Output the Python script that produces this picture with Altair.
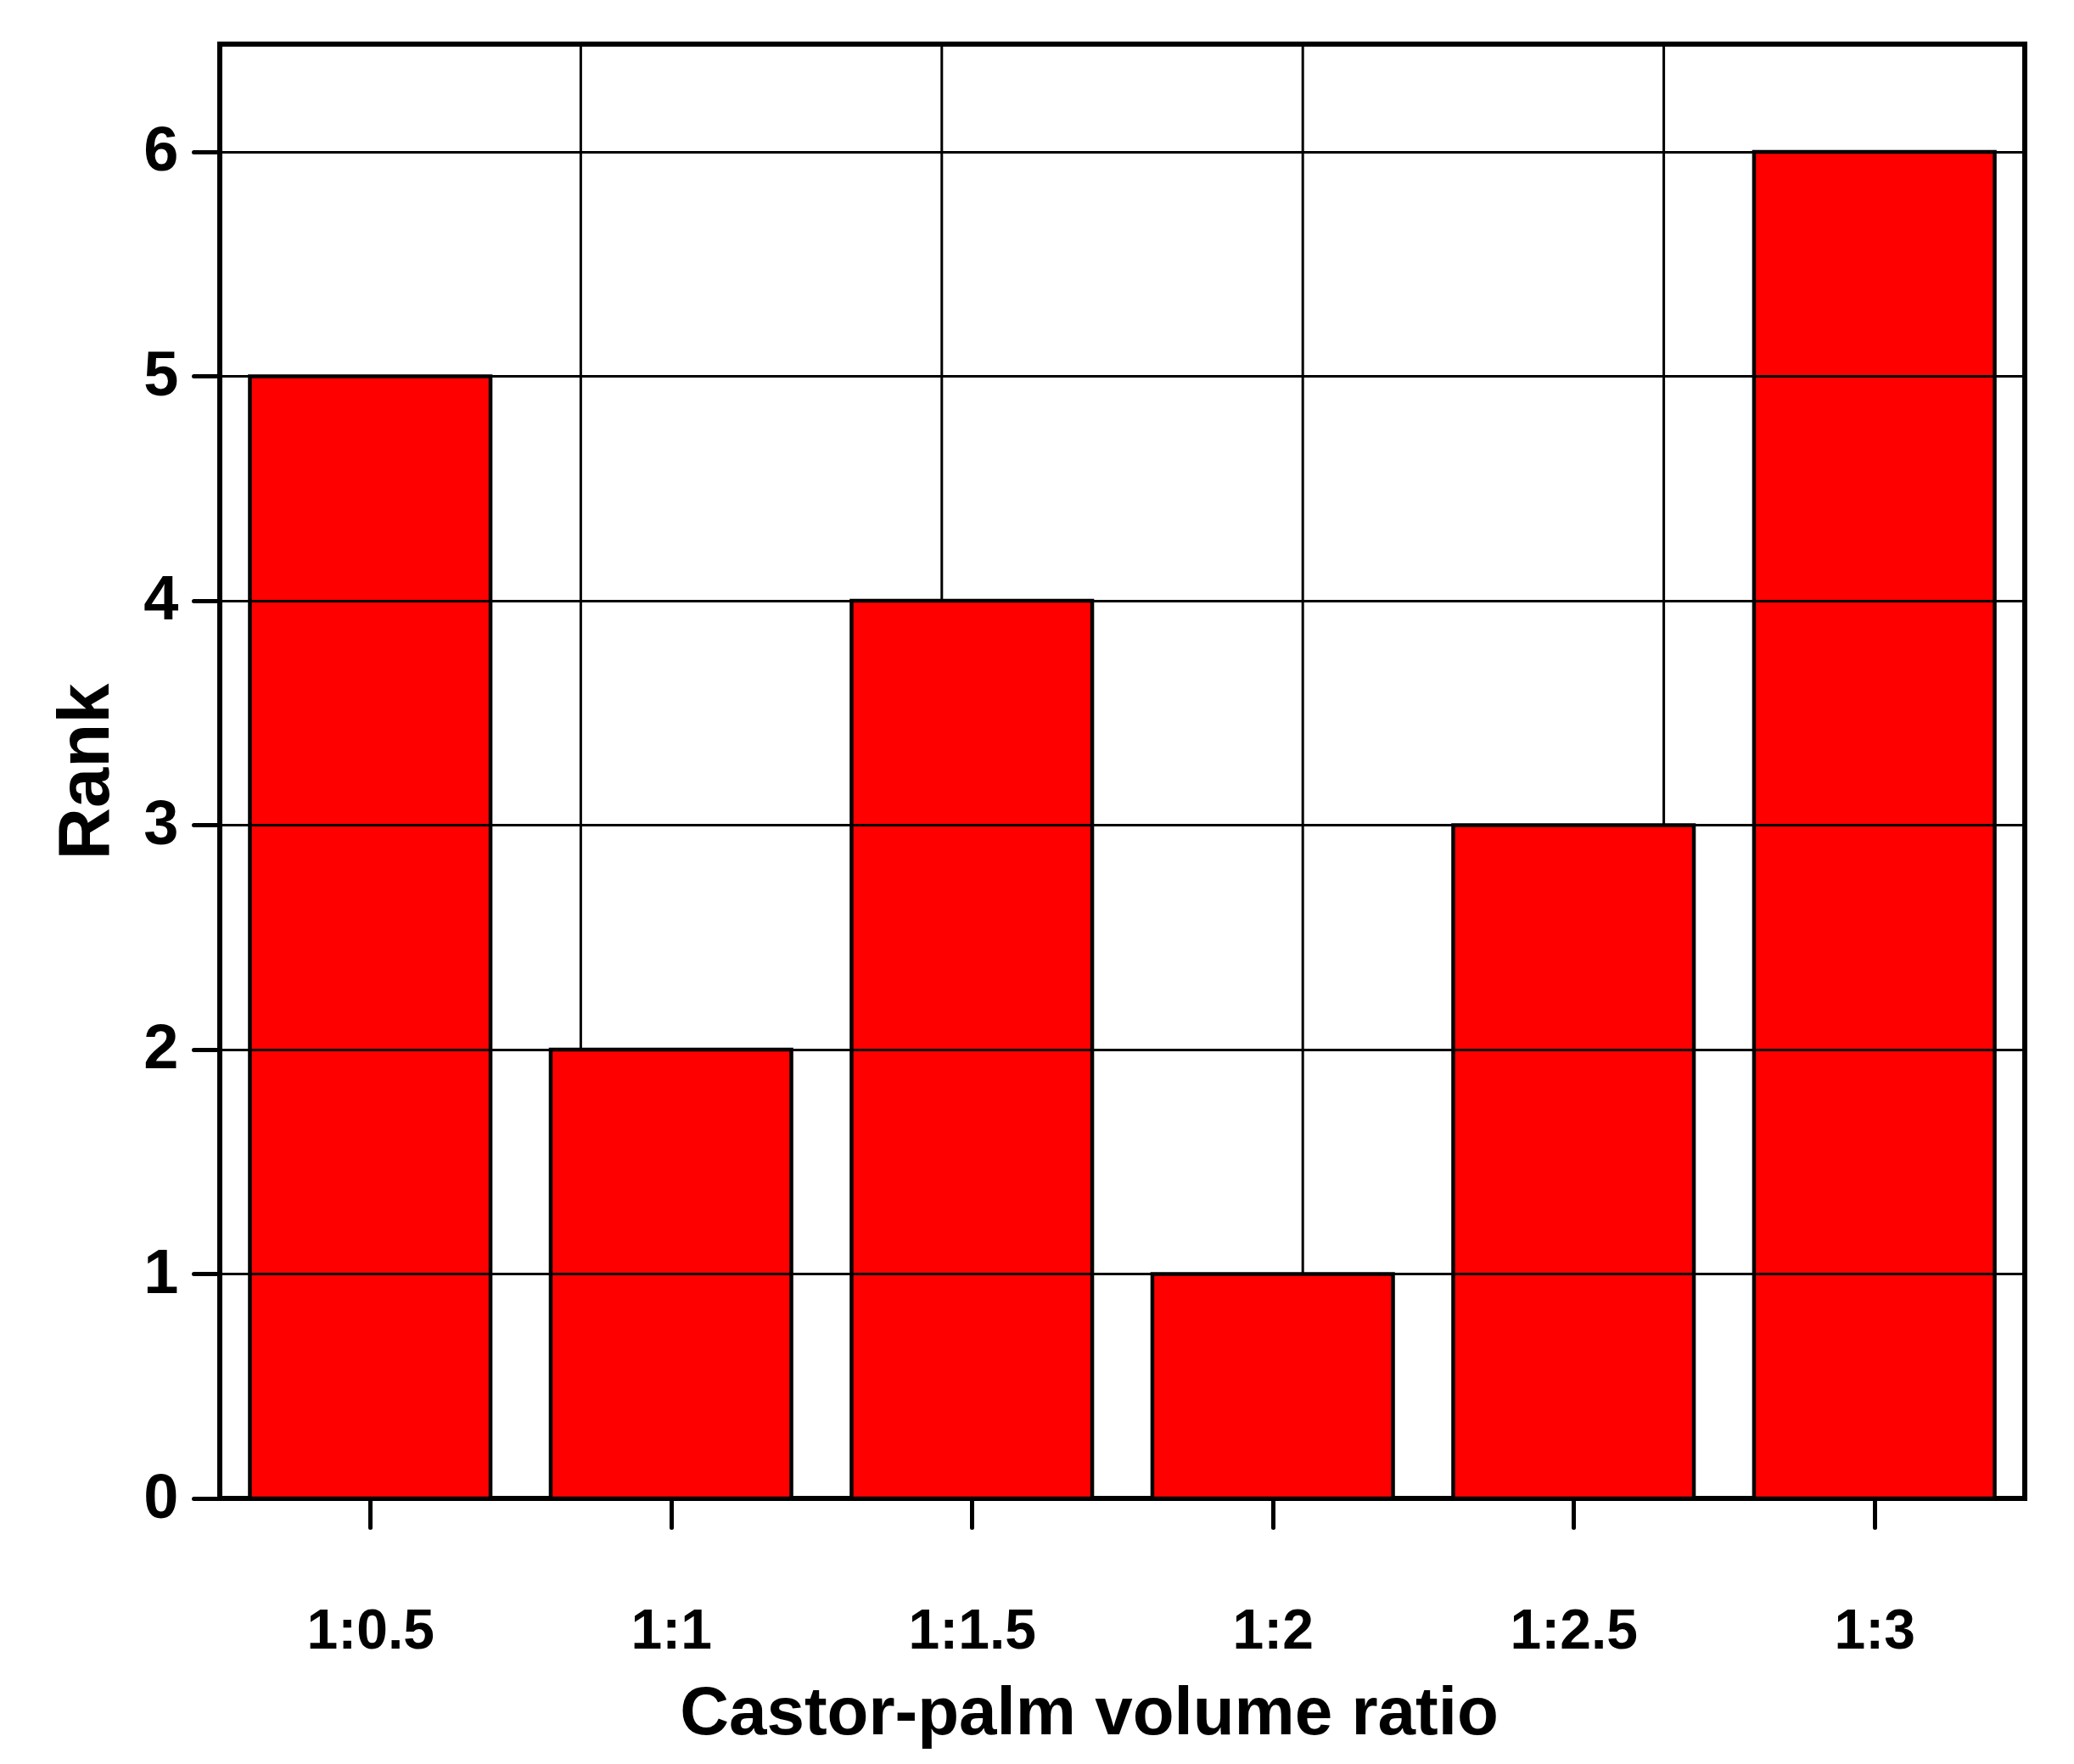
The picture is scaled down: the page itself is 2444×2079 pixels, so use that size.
import altair as alt
import pandas as pd

# ---- data ----
ratios = ["1:0.5", "1:1", "1:1.5", "1:2", "1:2.5", "1:3"]
ranks = [5, 2, 4, 1, 3, 6]
vgrid = [0.85, 1.45, 2.05, 2.65]
y_ticks = [0, 1, 2, 3, 4, 5, 6]

pos = [float(r.split(":")[1]) for r in ratios]
df = pd.DataFrame({"ratio": ratios, "pos": pos, "rank": ranks})
gdf = pd.DataFrame({"g": vgrid})

FONT = "Liberation Sans Narrow, Arial Narrow, Liberation Sans, Arial, sans-serif"
W, H = 2127, 1714
XDOM = [0.25, 3.25]
YDOM = [0, 6.48]

label_expr = "{" + ",".join(f"'{p:g}':'{r}'" for p, r in zip(pos, ratios)) + "}[''+datum.value]"

xscale = alt.Scale(domain=XDOM, nice=False, zero=False)
yscale = alt.Scale(domain=YDOM, nice=False, zero=False)

x_axis = alt.Axis(values=pos, labelExpr=label_expr, title="Castor-palm volume ratio",
                  grid=False, domainWidth=5, domainColor="black",
                  tickSize=34, tickWidth=5, tickColor="black", tickCap="round",
                  labelFont=FONT, labelFontSize=66, labelFontWeight="bold",
                  labelColor="black", labelBaseline="alphabetic", labelPadding=142,
                  labelFlush=False, labelOverlap=False,
                  titleFont=FONT, titleFontSize=80, titleFontWeight="bold",
                  titleColor="black", titleBaseline="alphabetic",
                  titleAnchor="start", titleAlign="center",
                  titleX=1024, titleY=277, zindex=1)

grid = alt.Chart(gdf).mark_rule(color="black", strokeWidth=3).encode(
    x=alt.X("g:Q", scale=xscale, axis=x_axis, title="Castor-palm volume ratio")
)

bars = alt.Chart(df).transform_calculate(
    lo="datum.pos - 0.2", hi="datum.pos + 0.2"
).mark_bar(color="#FF0000", stroke="black", strokeWidth=4.5).encode(
    x=alt.X("lo:Q", scale=xscale, axis=x_axis, title="Castor-palm volume ratio"),
    x2="hi:Q",
    y=alt.Y("rank:Q", scale=yscale,
            axis=alt.Axis(values=y_ticks, title="Rank", grid=True, gridColor="black",
                          gridWidth=3, gridOpacity=1, domainWidth=5, domainColor="black",
                          tickSize=31, tickWidth=5, tickColor="black", tickCap="round",
                          labelFont=FONT, labelFontSize=74, labelFontWeight="bold",
                          labelColor="black", labelPadding=18, labelFlush=False,
                          labelOverlap=False,
                          titleFont=FONT, titleFontSize=85, titleFontWeight="bold",
                          titleColor="black", titleAngle=270, titleBaseline="alphabetic",
                          titleAlign="center", titleX=-132, titleY=H / 2, zindex=1)),
    y2=alt.Y2(datum=0),
)

chart = alt.layer(grid, bars).properties(
    width=W, height=H,
    autosize=alt.AutoSizeParams(type="none"),
    padding={"left": 251, "top": 44, "right": 40, "bottom": 300},
).configure(
    background="white",
    view=alt.ViewConfig(stroke="black", strokeWidth=6),
)

chart.save("out.html", embed_options={"renderer": "svg", "actions": False})
